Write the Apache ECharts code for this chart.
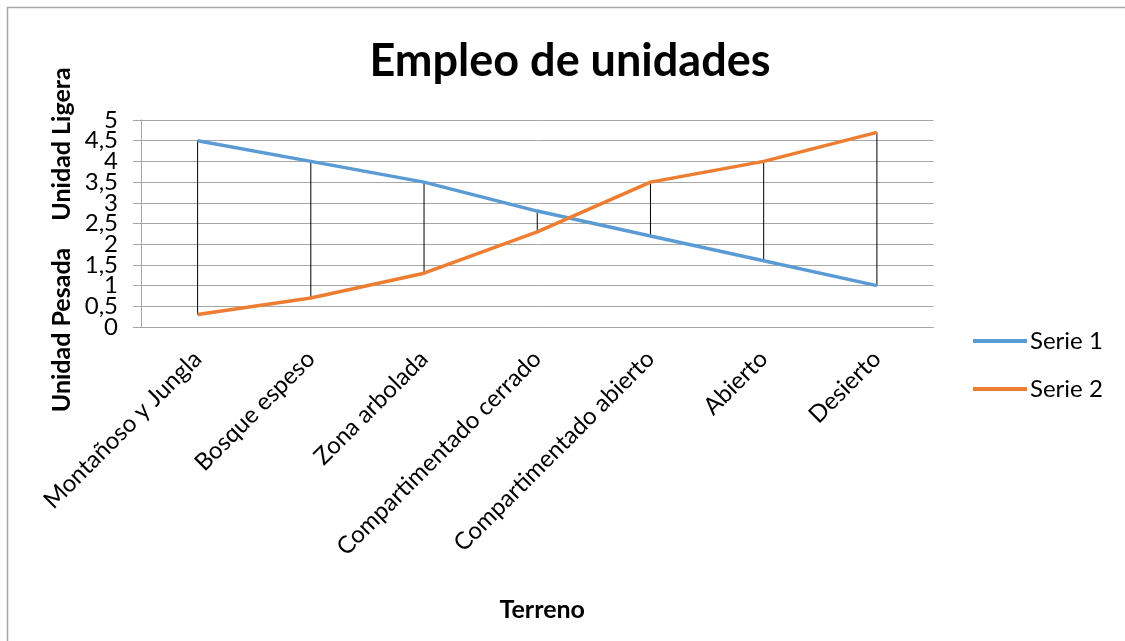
<!DOCTYPE html>
<html><head><meta charset="utf-8">
<script src="https://cdn.jsdelivr.net/npm/echarts@6/dist/echarts.min.js"></script>
<style>html,body{margin:0;padding:0;background:#fff}#c{width:1125px;height:641px}</style>
</head><body><div id="c"></div>
<script>
const categories = ["Montañoso y Jungla","Bosque espeso","Zona arbolada","Compartimentado cerrado","Compartimentado abierto","Abierto","Desierto"];
const serie1 = [4.5, 4.0, 3.5, 2.8, 2.2, 1.6, 1.0];
const serie2 = [0.3, 0.7, 1.3, 2.3, 3.5, 4.0, 4.7];
const seriesNames = ["Serie 1", "Serie 2"];
const yTicks = {min: 0, max: 5, interval: 0.5};

const FONT = 'Lato';
const hiLo = categories.map((c, i) => [i, serie1[i], serie2[i]]);
const fmt = v => String(v).replace('.', ',');
const isInt = v => Math.abs(v - Math.round(v)) < 1e-9;

const chart = echarts.init(document.getElementById('c'));
chart.setOption({
  animation: false,
  textStyle: {fontFamily: FONT},
  title: {text: 'Empleo de unidades', left: 565, textAlign: 'center', top: 34,
    textStyle: {fontFamily: FONT, fontWeight: 'bold', fontSize: 45, color: '#000'}},
  grid: {left: 141, right: 191.5, top: 120, bottom: 314, containLabel: false},
  legend: {orient: 'vertical', left: 973, top: 329, padding: 0, itemWidth: 54, itemHeight: 4, itemGap: 24,
    icon: 'rect',
    data: seriesNames, textStyle: {fontFamily: FONT, fontSize: 24, lineHeight: 24, color: '#000', padding: [0,0,0,-2]}},
  xAxis: {type: 'category', data: categories, boundaryGap: true,
    name: 'Terreno', nameLocation: 'middle', nameGap: 270,
    nameTextStyle: {fontFamily: FONT, fontWeight: 'bold', fontSize: 25, color: '#000', padding: [0,0,0,10]},
    axisLine: {lineStyle: {color: '#a6a6a6', width: 1}},
    axisTick: {show: false},
    axisLabel: {rotate: 45, interval: 0, fontSize: 24, color: '#000', margin: 28, fontFamily: FONT}},
  yAxis: [
    {type: 'value', min: yTicks.min, max: yTicks.max, interval: yTicks.interval,
      axisLine: {show: true, lineStyle: {color: '#a6a6a6', width: 1}},
      axisTick: {show: true, length: 8, lineStyle: {color: '#a6a6a6'}},
      splitLine: {lineStyle: {color: '#a6a6a6', width: 1}},
      axisLabel: {fontSize: 24, color: '#000', margin: 23, fontFamily: FONT,
        showMinLabel: true, showMaxLabel: true, hideOverlap: false,
        formatter: v => isInt(v) ? fmt(v) : ''}},
    {type: 'value', min: yTicks.min, max: yTicks.max, interval: yTicks.interval, position: 'left',
      axisLine: {show: false}, axisTick: {show: false}, splitLine: {show: false},
      axisLabel: {fontSize: 24, color: '#000', margin: 23, fontFamily: FONT,
        showMinLabel: false, showMaxLabel: false, hideOverlap: false,
        formatter: v => isInt(v) ? '' : fmt(v)}}
  ],
  graphic: [
    {type: 'rect', shape: {x: 7.5, y: 7.5, width: 1200, height: 700}, style: {fill: 'none', stroke: '#a6a6a6', lineWidth: 1.5}, silent: true},
    {type: 'text', x: 62, y: 144, rotation: Math.PI/2, style: {text: 'Unidad Ligera', font: 'bold 25px ' + FONT, fill: '#000', align: 'center', verticalAlign: 'middle'}},
    {type: 'text', x: 62, y: 330, rotation: Math.PI/2, style: {text: 'Unidad Pesada', font: 'bold 25px ' + FONT, fill: '#000', align: 'center', verticalAlign: 'middle'}}
  ],
  series: [
    {type: 'custom', name: 'hilo', data: hiLo, encode: {x: 0, y: [1, 2]}, z: 1,
      renderItem: (params, api) => {
        const p1 = api.coord([api.value(0), api.value(1)]);
        const p2 = api.coord([api.value(0), api.value(2)]);
        return {type: 'line', shape: {x1: p1[0], y1: p1[1], x2: p2[0], y2: p2[1]}, style: {stroke: '#000', lineWidth: 1}};
      }},
    {type: 'line', name: seriesNames[0], data: serie1, symbol: 'none', z: 3,
      lineStyle: {color: '#5B9BD5', width: 3.5}, itemStyle: {color: '#5B9BD5'}},
    {type: 'line', name: seriesNames[1], data: serie2, symbol: 'none', z: 3,
      lineStyle: {color: '#ED7D31', width: 3.5}, itemStyle: {color: '#ED7D31'}}
  ]
});
</script></body></html>
